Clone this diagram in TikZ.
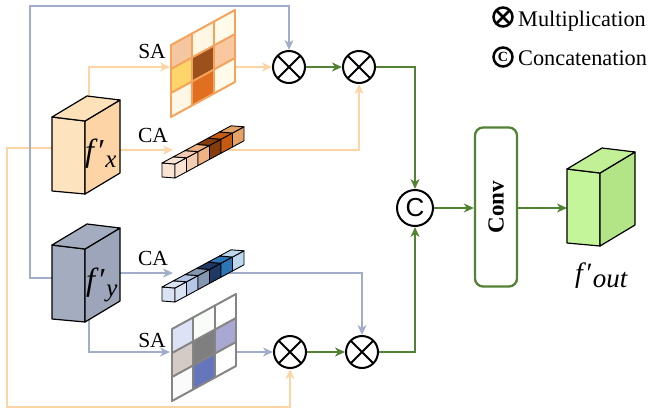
\documentclass[tikz,border=0pt]{standalone}
\usepackage{fontspec}
\setmainfont{Liberation Serif}
\newfontfamily\sansfont{Liberation Sans}
\usetikzlibrary{arrows.meta,calc}

\definecolor{lorange}{HTML}{FDD5A4}
\definecolor{lblue}{HTML}{A2AEC9}
\definecolor{lgreen}{HTML}{548235}
% f'x box
\definecolor{fxfront}{HTML}{FDE4BE}
\definecolor{fxside}{HTML}{FCD4A6}
\definecolor{fxtopc}{HTML}{FDE1B9}
% f'y box
\definecolor{fyfront}{HTML}{A4ACBF}
\definecolor{fyside}{HTML}{9CA5B9}
\definecolor{fytopc}{HTML}{A4ACBF}
% f'out box
\definecolor{fofront}{HTML}{C5F59B}
\definecolor{foside}{HTML}{B3E485}
\definecolor{fotopc}{HTML}{C2F096}
% SA upper
\definecolor{saA}{HTML}{F4C7A0}
\definecolor{saB}{HTML}{FFF6E3}
\definecolor{saC}{HTML}{FFFBEB}
\definecolor{saD}{HTML}{FED56B}
\definecolor{saE}{HTML}{9C501C}
\definecolor{saF}{HTML}{F9C7A0}
\definecolor{saG}{HTML}{FFF7E5}
\definecolor{saH}{HTML}{E06F22}
\definecolor{saI}{HTML}{FFFAEA}
\definecolor{saborder}{HTML}{F5A35C}
% SA lower
\definecolor{sbA}{HTML}{DDE2F6}
\definecolor{sbB}{HTML}{FAFCFA}
\definecolor{sbC}{HTML}{FFFFFF}
\definecolor{sbD}{HTML}{D4CAC6}
\definecolor{sbE}{HTML}{7F7F7F}
\definecolor{sbF}{HTML}{A8A8D2}
\definecolor{sbG}{HTML}{FBFBFB}
\definecolor{sbH}{HTML}{6676BC}
\definecolor{sbI}{HTML}{FFFFFF}
\definecolor{sbborder}{HTML}{858585}
% CA upper
\definecolor{caA}{HTML}{FBE3D4}
\definecolor{caB}{HTML}{F6CDB3}
\definecolor{caC}{HTML}{EFB283}
\definecolor{caD}{HTML}{843C0C}
\definecolor{caE}{HTML}{C55A11}
\definecolor{caF}{HTML}{E3A366}
% CA lower
\definecolor{cbA}{HTML}{DAE3F3}
\definecolor{cbB}{HTML}{B4C7E7}
\definecolor{cbC}{HTML}{8497B0}
\definecolor{cbD}{HTML}{1F3864}
\definecolor{cbE}{HTML}{2E75B6}
\definecolor{cbF}{HTML}{BDD7EE}

\newcommand{\featbox}[4]{%
 \begin{scope}[shift={#1}]
  \filldraw[boxedge,fill=#2] (0,0) -- (33,4) -- (33,77) -- (0,74) -- cycle;
  \filldraw[boxedge,fill=#3] (33,4) -- (68,-17) -- (68,56) -- (33,77) -- cycle;
  \filldraw[boxedge,fill=#4] (0,0) -- (35,-21) -- (68,-17) -- (33,4) -- cycle;
 \end{scope}}

\newcommand{\sagrid}[3]{%
 \begin{scope}[shift={#1}]
  \foreach \col [count=\i from 0] in {#2} {
    \pgfmathtruncatemacro\gc{mod(\i,3)}
    \pgfmathtruncatemacro\gr{\i/3}
    \fill[\col] ({\gc*21.33},{\gr*24-\gc*11.67}) -- ++(21.33,-11.67) -- ++(0,24) -- ++(-21.33,11.67) -- cycle;
  }
  \foreach \k in {0,1,2,3} {
    \draw[#3,line width=2pt,line cap=round] ({\k*21.33},{-\k*11.67}) -- ++(0,72);
    \draw[#3,line width=2pt,line cap=round] (0,{\k*24}) -- ++(64,-35);
  }
 \end{scope}}

\newcommand{\cabar}[2]{%
 \begin{scope}[shift={#1}]
  \foreach \col [count=\i from 0] in {#2} {
    \ifnum\i=0
      \filldraw[cubeedge,fill=\col] (0,0) -- (13,1) -- (13,-13) -- (0,-14) -- cycle;
    \fi
    \filldraw[cubeedge,fill=\col] ({13+\i*11.5},{1-\i*6.2}) -- ++(11.5,-6.2) -- ++(0,-14) -- ++(-11.5,6.2) -- cycle;
    \filldraw[cubeedge,fill=\col] ({\i*11.5},{-14-\i*6.2}) -- ++(11.5,-6.2) -- ++(13,1) -- ++(-11.5,6.2) -- cycle;
  }
 \end{scope}}

\newcommand{\fprime}{\textit{f}\kern0.5pt′}

\begin{document}
\begin{tikzpicture}[x=1pt,y=-1pt,
  arr/.style={-{Stealth[length=10pt,width=9pt,inset=3pt]}},
  lo/.style={line width=2.3pt,color=lorange},
  lb/.style={line width=2.3pt,color=lblue},
  lg/.style={line width=2.3pt,color=lgreen},
  op/.style={circle,draw=black,line width=2pt,minimum size=32pt,inner sep=0pt,fill=white},
  lab/.style={font=\fontsize{21.5}{21.5}\selectfont,inner sep=0pt},
  boxedge/.style={draw=black,line width=1.2pt,line join=round},
  cubeedge/.style={draw=black,line width=0.9pt,line join=round},
]
\useasboundingbox (0,0) rectangle (648,413);

% operator nodes
\node[op] (m1) at (289,67) {};
\node[op] (m2) at (359,67) {};
\node[op] (m3) at (290,352) {};
\node[op] (m4) at (362,352) {};
\node[op,minimum size=36pt,font=\sansfont\fontsize{26}{26}\selectfont] (cc) at (415,208) {C};
\foreach \m in {m1,m2,m3,m4} {
  \draw[line width=2pt] ($(\m.center)+(-11.3,-11.3)$) -- ($(\m.center)+(11.3,11.3)$)
                        ($(\m.center)+(11.3,-11.3)$) -- ($(\m.center)+(-11.3,11.3)$);
}

% conv
\node[draw=lgreen,line width=2.3pt,rounded corners=8pt,minimum width=42pt,minimum height=159pt,inner sep=0pt] (conv) at (496,207) {};
\node[rotate=90,font=\bfseries\fontsize{23}{23}\selectfont,inner sep=0pt] (convt) at (conv.center) {Conv};

% coordinates
\coordinate (fxtop) at (89,105);
\coordinate (sa1in) at (170,67);
\coordinate (sa1out) at (235,67);
\coordinate (fxr) at (120,150);
\coordinate (ca1in) at (173,150);
\coordinate (ca1out) at (205,150);
\coordinate (fxl) at (53,148);
\coordinate (obl) at (7,407);
\coordinate (fyl) at (53,278);
\coordinate (btl) at (30,6);
\coordinate (fyr) at (120,273);
\coordinate (ca2in) at (173,273);
\coordinate (ca2out) at (205,273);
\coordinate (fybot) at (89,315);
\coordinate (sa2in) at (170,352);
\coordinate (sa2out) at (235,352);
\coordinate (foutin) at (567,208);

% orange connectors
\draw[lo,arr] (fxtop) |- (sa1in);
\draw[lo,arr] (sa1out) -- (m1);
\draw[lo,arr] (fxr) -- (ca1in);
\draw[lo,arr] (ca1out) -| (m2.south);
\draw[lo,arr] (fxl) -| (obl) -| (m3.south);
% blue connectors
\draw[lb,arr] (fyl) -| (btl) -| (m1.north);
\draw[lb,arr] (fyr) -- (ca2in);
\draw[lb,arr] (ca2out) -| (m4.north);
\draw[lb,arr] (fybot) |- (sa2in);
\draw[lb,arr] (sa2out) -- (m3);
% green connectors
\draw[lg,arr] (m1) -- (m2);
\draw[lg,arr] (m2) -| (cc);
\draw[lg,arr] (m3) -- (m4);
\draw[lg,arr] (m4) -| (cc);
\draw[lg,arr] (cc) -- (cc -| conv.west);
\draw[lg,arr] (conv.east |- foutin) -- (foutin);

% feature boxes
\featbox{(52,117)}{fxfront}{fxside}{fxtopc}
\featbox{(52,245)}{fyfront}{fyside}{fytopc}
\featbox{(567,169)}{fofront}{foside}{fotopc}

% SA grids
\sagrid{(171,45)}{saA,saB,saC,saD,saE,saF,saG,saH,saI}{saborder}
\sagrid{(172,329)}{sbA,sbB,sbC,sbD,sbE,sbF,sbG,sbH,sbI}{sbborder}

% CA bars
\cabar{(162,177)}{caA,caB,caC,caD,caE,caF}
\cabar{(162,301)}{cbA,cbB,cbC,cbD,cbE,cbF}

% labels
\node[lab] (sa1l) at (152,51) {SA};
\node[lab] (ca1l) at (153,135) {CA};
\node[lab] (ca2l) at (153,258) {CA};
\node[lab] (sa2l) at (152,340) {SA};

\node[anchor=base west,inner sep=0pt,font=\fontsize{32}{32}\selectfont] (fxlab) at (85,161) {\fprime\raisebox{-6pt}{\fontsize{25}{25}\selectfont\textit{x}}};
\node[anchor=base west,inner sep=0pt,font=\fontsize{32}{32}\selectfont] (fylab) at (86,290) {\fprime\raisebox{-6pt}{\fontsize{25}{25}\selectfont\textit{y}}};
\node[anchor=base west,inner sep=0pt,font=\fontsize{28}{28}\selectfont] (foutlab) at (575,282) {\fprime\raisebox{-5pt}{\fontsize{27}{27}\selectfont\textit{out}}};

% legend
\node[circle,draw,line width=2.5pt,minimum size=19pt,inner sep=0pt] (lgm) at (503,17) {};
\draw[line width=2.5pt] ($(lgm.center)+(-6.5,-6.5)$) -- ($(lgm.center)+(6.5,6.5)$)
                        ($(lgm.center)+(6.5,-6.5)$) -- ($(lgm.center)+(-6.5,6.5)$);
\node[circle,draw,line width=2.5pt,minimum size=19pt,inner sep=0pt,font=\bfseries\fontsize{14}{14}\selectfont] (lgc) at (503,57) {C};
\node[anchor=base west,font=\fontsize{22.3}{22.3}\selectfont,inner sep=0pt] (lgmt) at (518,26) {Multiplication};
\node[anchor=base west,font=\fontsize{22.3}{22.3}\selectfont,inner sep=0pt] (lgct) at (518,65) {Concatenation};
\end{tikzpicture}
\end{document}
